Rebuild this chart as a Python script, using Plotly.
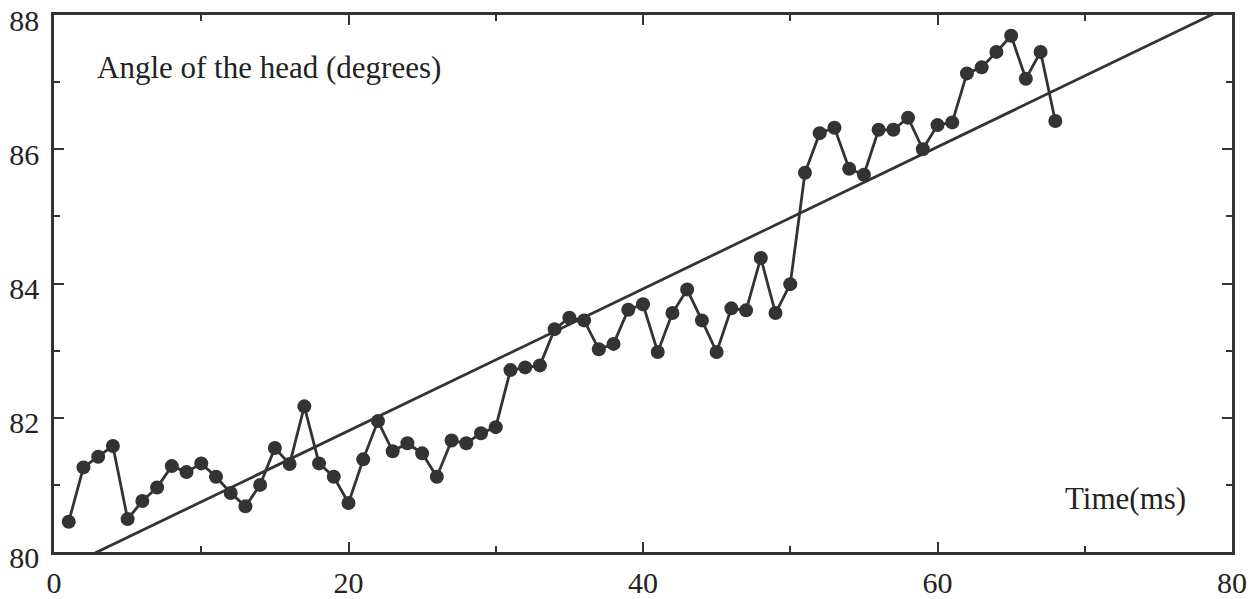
import plotly.graph_objects as go

# Time (ms)
time_ms = list(range(1, 69))
# Angle of the head (degrees)
angle_deg = [
    80.45, 81.26, 81.42, 81.58, 80.49, 80.76, 80.96, 81.28, 81.19, 81.32,
    81.12, 80.88, 80.68, 81.00, 81.55, 81.31, 82.17, 81.32, 81.12, 80.73,
    81.38, 81.95, 81.50, 81.62, 81.47, 81.12, 81.66, 81.62, 81.77, 81.86,
    82.71, 82.75, 82.78, 83.32, 83.49, 83.45, 83.02, 83.10, 83.61, 83.69,
    82.98, 83.56, 83.91, 83.45, 82.98, 83.63, 83.60, 84.38, 83.56, 83.99,
    85.65, 86.24, 86.32, 85.71, 85.62, 86.29, 86.29, 86.47, 86.00, 86.36,
    86.40, 87.13, 87.22, 87.45, 87.69, 87.05, 87.45, 86.42,
]
# Trend line end points
trend_x = [0, 80]
trend_y = [79.69, 88.15]

x_ticks = [0, 20, 40, 60, 80]
y_ticks = [80, 82, 84, 86, 88]

ink = "#333333"
font_family = "Liberation Serif, Times New Roman, serif"

fig = go.Figure()
fig.add_trace(go.Scatter(
    x=trend_x, y=trend_y, mode="lines",
    line=dict(color=ink, width=2.8), hoverinfo="skip", showlegend=False,
))
fig.add_trace(go.Scatter(
    x=time_ms, y=angle_deg, mode="lines+markers",
    line=dict(color=ink, width=2.8),
    marker=dict(color=ink, size=14),
    showlegend=False,
))

axis_common = dict(
    showgrid=False, zeroline=False, showline=True, linecolor=ink, linewidth=2.5,
    mirror="ticks", ticks="inside", ticklen=10, tickwidth=2, tickcolor=ink,
    automargin=False, ticklabeloverflow="allow",
    tickfont=dict(family=font_family, size=30, color="#222222"),
)
fig.update_xaxes(
    range=[0, 80], tickvals=x_ticks, ticktext=[str(v) for v in x_ticks],
    minor=dict(dtick=10, tick0=0, ticks="inside", ticklen=6, tickwidth=2, tickcolor=ink),
    ticklabelstandoff=2,
    **axis_common,
)
fig.update_yaxes(
    range=[80, 88], tickvals=y_ticks, ticktext=[str(v) for v in y_ticks],
    minor=dict(dtick=1, tick0=80, ticks="inside", ticklen=6, tickwidth=2, tickcolor=ink),
    ticklabelstandoff=6, ticklabelshift=5,
    **axis_common,
)

fig.add_annotation(
    x=0.0348, y=0.903, xref="paper", yref="paper", xanchor="left", yanchor="middle",
    text="Angle of the head (degrees)", showarrow=False,
    font=dict(family=font_family, size=31, color="#222222"),
)
fig.add_annotation(
    x=0.9626, y=0.099, xref="paper", yref="paper", xanchor="right", yanchor="middle",
    text="Time(ms)", showarrow=False,
    font=dict(family=font_family, size=31, color="#222222"),
)

# The page body adds an 8px offset, so the figure is sized to fit the window after it.
fig.update_layout(
    width=1247, height=591,
    margin=dict(l=46, r=23, t=7, b=47),
    paper_bgcolor="white", plot_bgcolor="white",
)

fig.write_html("out.html")
